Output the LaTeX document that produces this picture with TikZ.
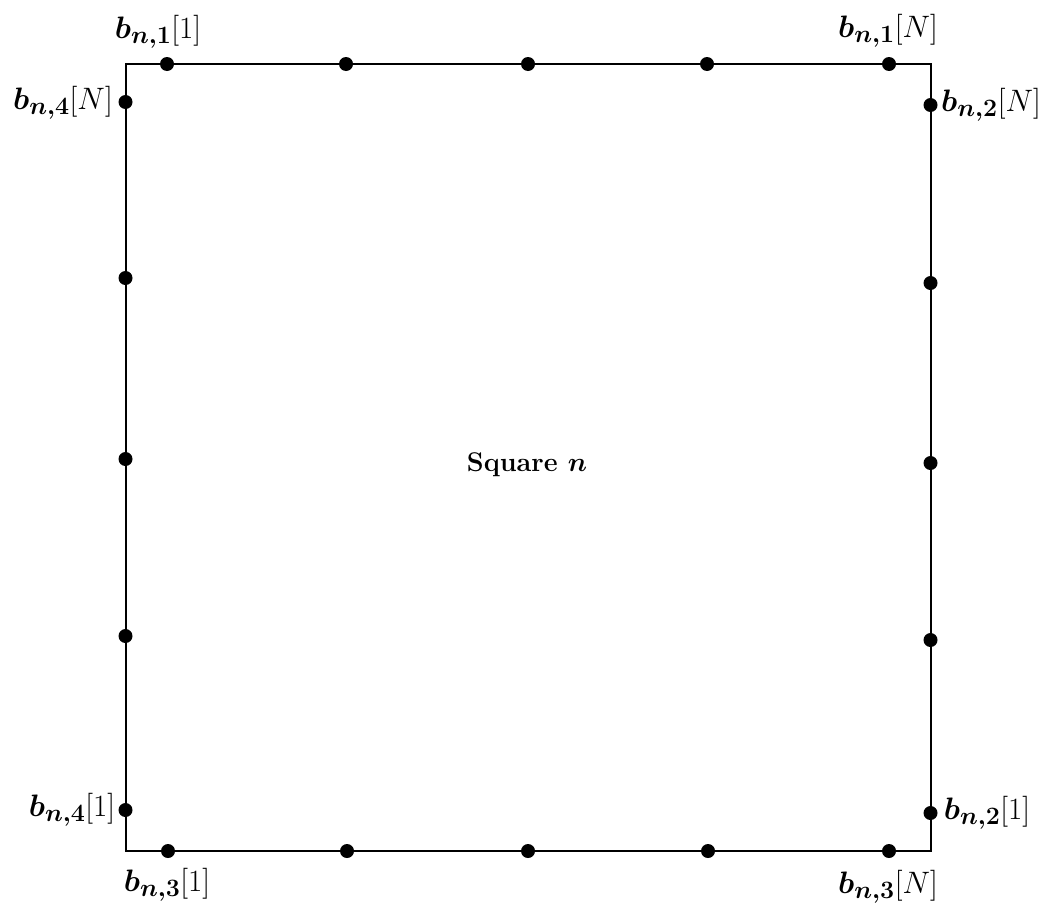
\RequirePackage{fix-cm}
\documentclass[tikz,border=0pt]{standalone}
\usepackage{amsmath,bm}
\DeclareMathSizes{31}{31}{25}{20}
\begin{document}
\begin{tikzpicture}[x=1pt,y=-1pt,
  edge/.style={line width=2pt},
  pt/.style={circle,fill=black,inner sep=0pt,minimum size=14pt},
  lab/.style={font=\fontsize{31}{36}\selectfont,inner sep=0pt},
  title/.style={font=\fontsize{27}{32}\selectfont\bfseries\boldmath,inner sep=0pt}]
\useasboundingbox (0,0) rectangle (1043,913);
\coordinate (TL) at (125.5,64);
\coordinate (TR) at (930.5,64);
\coordinate (BR) at (930.5,851);
\coordinate (BL) at (125.5,851);
\draw[edge] (TL) -- (TR) -- (BR) -- (BL) -- cycle;
% top
\foreach \x [count=\i] in {167,346,528,707,889} \node[pt] (t\i) at (\x,64) {};
% bottom
\foreach \x [count=\i] in {168,347,528,708,889} \node[pt] (b\i) at (\x,851) {};
% left
\foreach \y [count=\i] in {102,278,459,636,810} \node[pt] (l\i) at (125.5,\y) {};
% right
\foreach \y [count=\i] in {105,283,463,640,813} \node[pt] (r\i) at (930.5,\y) {};
\node[lab] (a1) at (158,32) {$\bm{b_{n,1}}[1]$};
\node[lab] (a2) at (888,31) {$\bm{b_{n,1}}[N]$};
\node[lab] (a3) at (63,103) {$\bm{b_{n,4}}[N]$};
\node[lab] (a4) at (991,105) {$\bm{b_{n,2}}[N]$};
\node[lab] (a5) at (72,810) {$\bm{b_{n,4}}[1]$};
\node[lab] (a6) at (987,813) {$\bm{b_{n,2}}[1]$};
\node[lab] (a7) at (167,885) {$\bm{b_{n,3}}[1]$};
\node[lab] (a8) at (888,887) {$\bm{b_{n,3}}[N]$};
\node[title] (sq) at (527,465) {Square $n$};
\end{tikzpicture}
\end{document}
